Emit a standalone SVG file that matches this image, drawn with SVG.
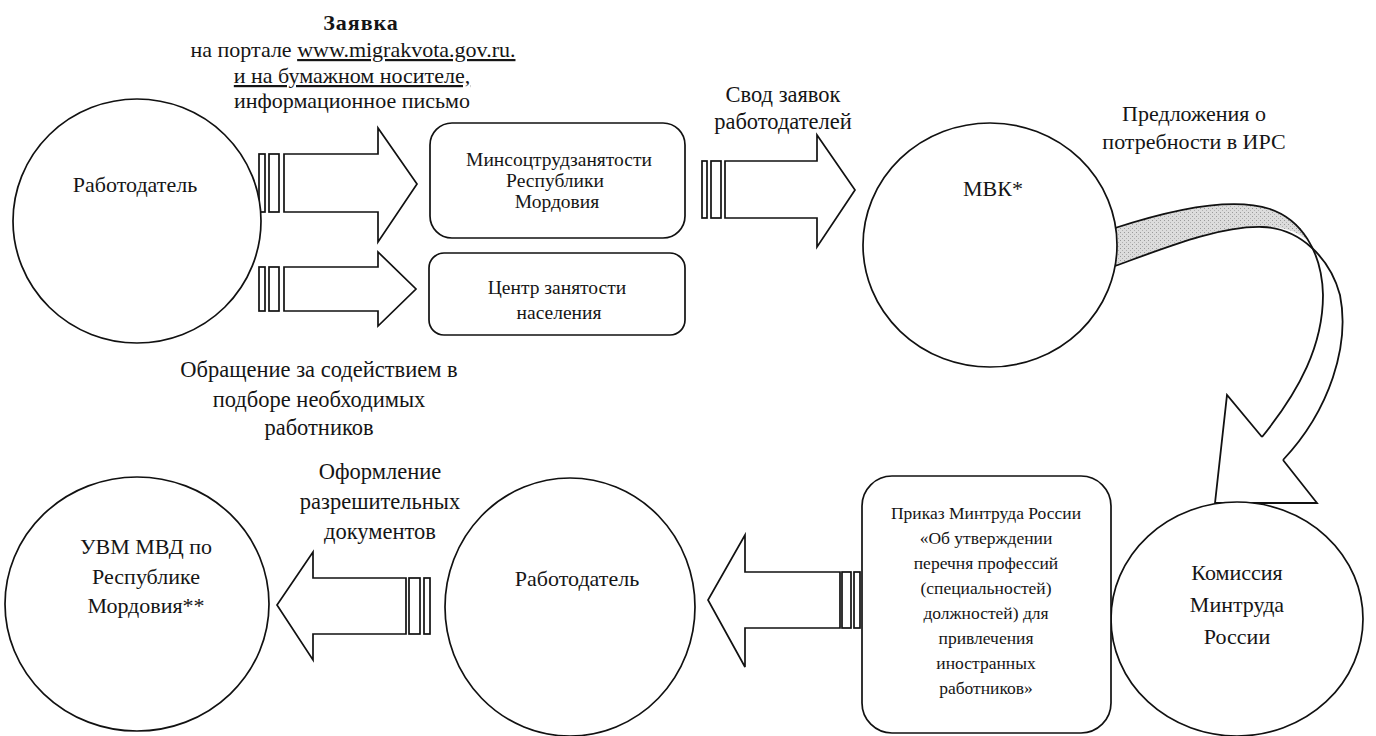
<svg xmlns="http://www.w3.org/2000/svg" width="1376" height="736" viewBox="0 0 1376 736">
<defs>
  <pattern id="stip" width="4" height="4" patternUnits="userSpaceOnUse">
    <rect width="4" height="4" fill="#dcdcdc"/>
    <rect x="0" y="0" width="1" height="1" fill="#9a9a9a"/>
    <rect x="2" y="2" width="1" height="1" fill="#b0b0b0"/>
  </pattern>
</defs>
<style>
.s{fill:#fff;stroke:#111;stroke-width:1.7}
.n{fill:none;stroke:#111;stroke-width:1.8}
.t{font-family:"Liberation Serif","DejaVu Serif",serif;font-size:22px;fill:#151515;text-anchor:middle}
.lb{font-size:22.5px}
.bx{font-size:19.5px}
.sm{font-size:17.5px}
.u{text-decoration:underline}
</style>
<rect width="1376" height="736" fill="#fff"/>
<g id="connectors">
  <g id="arr1">
    <rect class="s" x="259" y="154" width="6" height="58"/>
    <rect class="s" x="269" y="154" width="10" height="58"/>
    <polygon class="s" points="284,154 378,154 378,128 417,184 378,242 378,212 284,212"/>
  </g>
  <g id="arr2">
    <rect class="s" x="259" y="267" width="6" height="44"/>
    <rect class="s" x="269" y="267" width="10" height="44"/>
    <polygon class="s" points="284,267 378,267 378,252 416,289 378,326 378,311 284,311"/>
  </g>
  <g id="arr3">
    <rect class="s" x="702" y="161" width="5" height="57"/>
    <rect class="s" x="711" y="161" width="10" height="57"/>
    <polygon class="s" points="725,161 817,161 817,135 855,190 817,247 817,218 725,218"/>
  </g>
  <g id="arr4">
    <rect class="s" x="842" y="572" width="9" height="56"/>
    <rect class="s" x="854" y="572" width="6" height="56"/>
    <polygon class="s" points="840,572 745,572 745,535 708,600 745,667 745,628 840,628"/>
  </g>
  <g id="arr5">
    <rect class="s" x="409" y="578" width="11" height="56"/>
    <rect class="s" x="424" y="578" width="6" height="56"/>
    <polygon class="s" points="406,578 313,578 313,552 277,605 313,660 313,634 406,634"/>
  </g>
  <g id="curved">
    <path d="M1115,228 C1170,210 1230,196 1270,209 C1290,215 1305,230 1311,244 C1300,232 1285,226 1262,227 C1220,226 1170,246 1115,266 Z" fill="url(#stip)" stroke="none"/>
    <path class="n" d="M1115,228 C1170,210 1230,196 1270,209 C1300,219 1322,250 1323,295 C1323,345 1300,390 1262,437"/>
    <path class="n" d="M1115,266 C1170,246 1220,226 1262,227 C1300,228 1330,258 1340,295 C1350,345 1330,410 1283,460"/>
    <polyline class="n" points="1262,437 1227,395 1215,503 1317,503 1283,460"/>
  </g>
</g>
<g id="emp1">
  <ellipse class="s" cx="137" cy="221" rx="124" ry="122"/>
  <text class="t" x="135" y="192">Работодатель</text>
</g>
<g id="minsoc">
  <rect class="s" x="430" y="123" width="255" height="115" rx="22"/>
  <text class="t bx" x="559" y="166">Минсоцтрудзанятости</text>
  <text class="t bx" x="555" y="187">Республики</text>
  <text class="t bx" x="557" y="208">Мордовия</text>
</g>
<g id="czn">
  <rect class="s" x="429" y="253" width="256" height="82" rx="15"/>
  <text class="t bx" x="557" y="294">Центр занятости</text>
  <text class="t bx" x="559" y="319">населения</text>
</g>
<g id="mvk">
  <ellipse class="s" cx="990" cy="245" rx="127" ry="122"/>
  <text class="t" x="993" y="196">МВК*</text>
</g>
<g id="komissia">
  <ellipse class="s" cx="1237" cy="619" rx="126" ry="117"/>
  <text class="t" x="1237" y="580">Комиссия</text>
  <text class="t" x="1237" y="612">Минтруда</text>
  <text class="t" x="1237" y="644">России</text>
</g>
<g id="prikaz">
  <rect class="s" x="862" y="476" width="249" height="257" rx="30"/>
  <text class="t sm" x="986" y="519">Приказ Минтруда России</text>
  <text class="t sm" x="986" y="544">«Об утверждении</text>
  <text class="t sm" x="986" y="569">перечня профессий</text>
  <text class="t sm" x="986" y="594">(специальностей)</text>
  <text class="t sm" x="986" y="619">должностей) для</text>
  <text class="t sm" x="986" y="644">привлечения</text>
  <text class="t sm" x="986" y="669">иностранных</text>
  <text class="t sm" x="986" y="694">работников»</text>
</g>
<g id="emp2">
  <ellipse class="s" cx="570" cy="607" rx="125" ry="129"/>
  <text class="t" x="577" y="586">Работодатель</text>
</g>
<g id="uvm">
  <ellipse class="s" cx="137" cy="604" rx="132" ry="127"/>
  <text class="t" x="146" y="554">УВМ МВД по</text>
  <text class="t" x="146" y="584">Республике</text>
  <text class="t" x="146" y="613">Мордовия**</text>
</g>
<g id="labels">
  <text class="t" x="361" y="30" font-weight="bold" letter-spacing="1">Заявка</text>
  <text class="t" x="353" y="57">на портале <tspan class="u">www.migrakvota.gov.ru.</tspan></text>
  <text class="t u" x="352" y="83">и на бумажном носителе,</text>
  <text class="t" x="352" y="108">информационное письмо</text>
  <text class="t lb" x="783" y="102">Свод заявок</text>
  <text class="t lb" x="783" y="129">работодателей</text>
  <text class="t" x="1194" y="121" text-anchor="start" font-size="21">Предложения о</text>
  <text class="t" x="1194" y="149" text-anchor="start" font-size="21">потребности в ИРС</text>
  <text class="t lb" x="319" y="377">Обращение за содействием в</text>
  <text class="t lb" x="319" y="407">подборе необходимых</text>
  <text class="t lb" x="319" y="435">работников</text>
  <text class="t lb" x="380" y="479">Оформление</text>
  <text class="t lb" x="380" y="509">разрешительных</text>
  <text class="t lb" x="380" y="539">документов</text>
</g>
</svg>
